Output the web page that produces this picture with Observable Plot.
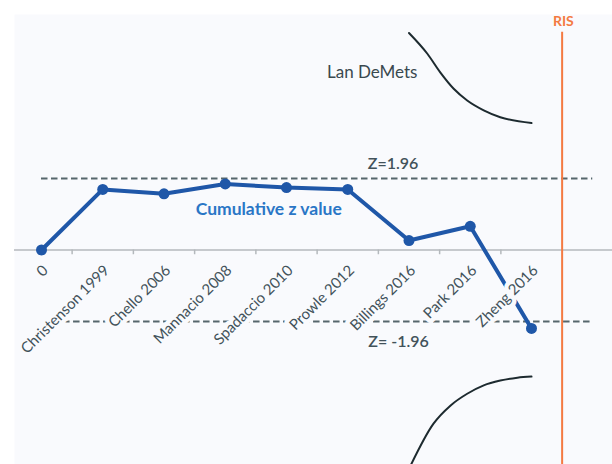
<!DOCTYPE html>
<html>
<head>
<meta charset="utf-8">
<script src="https://cdn.jsdelivr.net/npm/d3@7"></script>
<script src="https://cdn.jsdelivr.net/npm/@observablehq/plot@0.6"></script>
<style>
  html, body { margin: 0; padding: 0; background: #ffffff; }
  svg { overflow: hidden; }
</style>
</head>
<body>
<div id="chart"></div>
<script>
const categories = ["0", "Christenson 1999", "Chello 2006", "Mannacio 2008", "Spadaccio 2010", "Prowle 2012", "Billings 2016", "Park 2016", "Zheng 2016"];
const zValues = [0, 1.66, 1.54, 1.81, 1.71, 1.66, 0.26, 0.65, -2.15];

const upperX = [6.0, 6.3, 6.51, 6.73, 6.95, 7.22, 7.49, 8.0];
const upperZ = [5.95, 5.38, 4.87, 4.42, 4.10, 3.83, 3.64, 3.48];
const lowerX = [6.0, 6.4, 6.68, 6.95, 7.22, 7.49, 7.77, 8.0];
const lowerZ = [-6.0, -4.76, -4.26, -3.94, -3.71, -3.58, -3.50, -3.47];

const boundaryUpper = 1.96;
const boundaryLower = -1.96;
const risPosition = 8.5;
const tickPositions = [0.5, 1.5, 2.5, 3.5, 4.5, 5.5, 6.5, 7.5];

const series = categories.map((c, i) => ({i, label: c, z: zValues[i]}));
const upper = upperX.map((x, k) => ({x, z: upperZ[k]}));
const lower = lowerX.map((x, k) => ({x, z: lowerZ[k]}));

const bg = "#f9fafd";
const grey = "#42525a";
const font = "Lato, 'Open Sans', sans-serif";

const chart = Plot.plot({
  width: 612,
  height: 464,
  marginLeft: 14,
  marginTop: 14,
  marginRight: 0,
  marginBottom: 0,
  style: {fontFamily: font, background: "#ffffff"},
  x: {domain: [0, 8], range: [41, 531], axis: null},
  y: {domain: [-1.96, 1.96], range: [321, 178], axis: null},
  marks: [
    Plot.frame({fill: bg, stroke: null}),
    Plot.ruleY([0], {stroke: "#b4b8bc", strokeWidth: 1.5}),
    Plot.ruleX(tickPositions, {y1: 0, y2: -0.13, stroke: "#b4b8bc", strokeWidth: 1.5}),
    Plot.ruleY([boundaryUpper], {x1: 0, x2: 9, stroke: "#56666c", strokeWidth: 1.8, strokeDasharray: "6.5,3.5"}),
    Plot.ruleY([boundaryLower], {x1: 0.36, x2: 9, stroke: "#56666c", strokeWidth: 1.8, strokeDasharray: "6.5,3.5"}),
    Plot.line(upper, {x: "x", y: "z", curve: "monotone-x", stroke: "#1d2a2f", strokeWidth: 2}),
    Plot.line(lower, {x: "x", y: "z", curve: "monotone-x", stroke: "#1d2a2f", strokeWidth: 2}),
    Plot.ruleX([risPosition], {y1: 5.97, y2: -6.2, stroke: "#f47a42", strokeWidth: 2}),
    Plot.line(series, {x: "i", y: "z", stroke: "#1f57a8", strokeWidth: 4}),
    Plot.dot(series, {x: "i", y: "z", r: 5.5, fill: "#1f57a8", stroke: null}),
    Plot.text(series, {x: "i", y: () => 0, text: "label", rotate: -45, textAnchor: "end",
      dx: 4, dy: 18, fontSize: 15, fill: grey, stroke: bg, strokeWidth: 9}),
    Plot.text(["Z=1.96"], {x: 5.74, y: 2.37, text: d => d, fontSize: 16, fontWeight: 600, fill: grey}),
    Plot.text(["Z= -1.96"], {x: 5.83, y: -2.51, text: d => d, fontSize: 16, fontWeight: 600, fill: grey}),
    Plot.text(["Lan DeMets"], {x: 5.40, y: 4.87, text: d => d, fontSize: 17, fill: "#3a494f"}),
    Plot.text(["Cumulative z value"], {x: 3.71, y: 1.11, text: d => d, fontSize: 17.5, fontWeight: 700, fill: "#2a76c6"}),
    Plot.text(["RIS"], {x: 8.52, y: 6.27, text: d => d, fontSize: 14, fontWeight: 700, fill: "#f47a42"})
  ]
});
document.getElementById("chart").appendChild(chart);
</script>
</body>
</html>
